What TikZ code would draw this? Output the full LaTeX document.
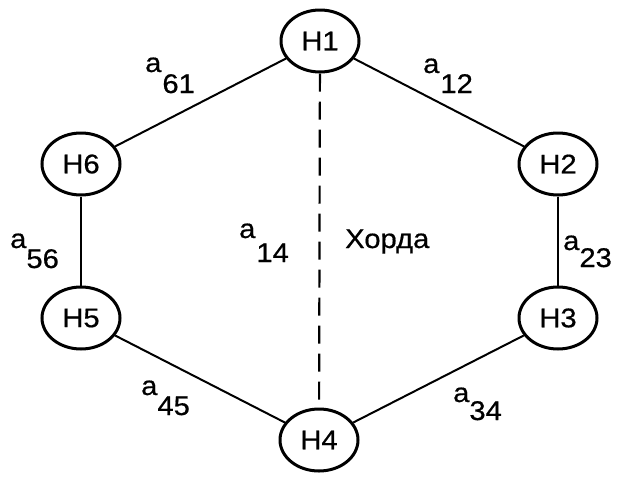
\documentclass[tikz,border=0pt]{standalone}
\usepackage{fontspec}
\setmainfont{Liberation Sans}[FakeStretch=1.08,FakeBold=0.6]
\usetikzlibrary{shapes.geometric}
\begin{document}
\begin{tikzpicture}[x=1pt,y=-1pt,
  hnode/.style={ellipse,draw,line width=3pt,minimum width=78pt,minimum height=62pt,inner sep=0pt,font=\fontsize{27}{27}\selectfont},
  edge/.style={line width=2pt},
  lab/.style={anchor=base west,inner sep=0pt,font=\fontsize{27}{27}\selectfont}]
\useasboundingbox (0,0) rectangle (623,477);
\node[hnode] (h1) at (320,41) {H1};
\node[hnode] (h2) at (558,164) {H2};
\node[hnode] (h3) at (558,318) {H3};
\node[hnode] (h4) at (319,440) {H4};
\node[hnode] (h5) at (81,318) {H5};
\node[hnode] (h6) at (81,164) {H6};
\draw[edge] (h1) -- (h2);
\draw[edge] (h2) -- (h3);
\draw[edge] (h3) -- (h4);
\draw[edge] (h4) -- (h5);
\draw[line width=1.5pt] (h5) -- (h6);
\draw[edge] (h6) -- (h1);
\draw[edge,line width=2.2pt,dash pattern=on 18pt off 10pt] (h1) -- (h4);
\node[lab] (l61) at (145,72) {a\kern1pt\raisebox{-21pt}{61}};
\node[lab] (l12) at (423,73) {a\kern1pt\raisebox{-20pt}{12}};
\node[lab] (l56) at (10,248) {a\kern0pt\raisebox{-20pt}{56}};
\node[lab] (l14) at (239,238) {a\kern1pt\raisebox{-24pt}{14}};
\node[lab] (l23) at (563,250) {a\kern0pt\raisebox{-17pt}{23}};
\node[lab] (l45) at (141,395) {a\kern0pt\raisebox{-20pt}{45}};
\node[lab] (l34) at (453,402) {a\kern0pt\raisebox{-18pt}{34}};
\node[lab] (chord) at (345,248) {Хорда};
\end{tikzpicture}
\end{document}
